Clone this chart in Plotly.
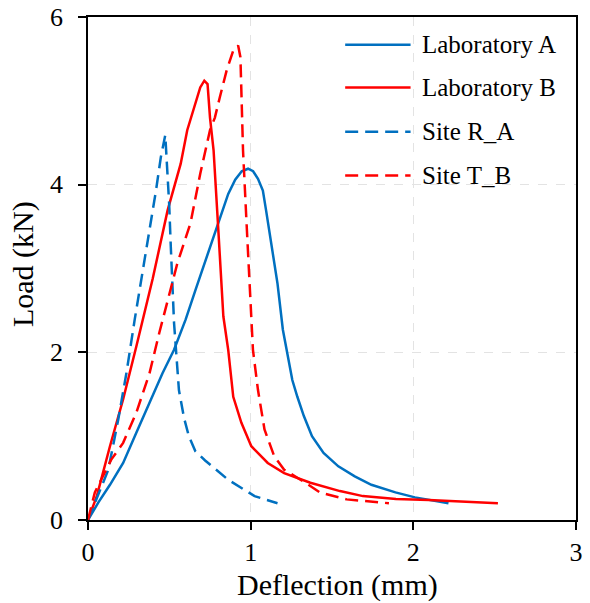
import plotly.graph_objects as go

# Load-deflection curves (deflection in mm, load in kN)
lab_a_x = [0.0, 0.064, 0.135, 0.216, 0.297, 0.378, 0.458, 0.529, 0.60, 0.66, 0.79, 0.862,
           0.905, 0.945, 0.984, 1.015, 1.045, 1.075, 1.095, 1.125, 1.165, 1.198, 1.226,
           1.256, 1.287, 1.327, 1.377, 1.448, 1.539, 1.64, 1.742, 1.89, 2.01, 2.216]
lab_a_y = [0.0, 0.21, 0.42, 0.68, 1.04, 1.40, 1.75, 2.03, 2.39, 2.74, 3.48, 3.89,
           4.06, 4.16, 4.19, 4.16, 4.07, 3.93, 3.69, 3.34, 2.82, 2.27, 1.99,
           1.67, 1.47, 1.24, 1.00, 0.80, 0.64, 0.52, 0.42, 0.33, 0.27, 0.20]

lab_b_x = [0.0, 0.055, 0.135, 0.216, 0.297, 0.378, 0.398, 0.489, 0.57, 0.61, 0.65, 0.69,
           0.715, 0.735, 0.75, 0.772, 0.80, 0.832, 0.862, 0.893, 0.943, 1.004, 1.105, 1.206,
           1.367, 1.549, 1.69, 1.893, 2.095, 2.52]
lab_b_y = [0.0, 0.29, 0.88, 1.44, 2.07, 2.74, 2.88, 3.69, 4.25, 4.65, 4.92, 5.16,
           5.24, 5.20, 4.80, 4.41, 3.50, 2.43, 2.03, 1.47, 1.16, 0.88, 0.68, 0.56,
           0.445, 0.345, 0.285, 0.25, 0.24, 0.20]

site_ra_x = [0.0, 0.125, 0.186, 0.236, 0.287, 0.317, 0.347, 0.388, 0.418, 0.448, 0.475,
             0.485, 0.499, 0.509, 0.529, 0.559, 0.59, 0.62, 0.66, 0.72, 0.862, 1.024, 1.165]
site_ra_y = [0.0, 0.60, 1.20, 1.75, 2.39, 2.74, 3.06, 3.54, 3.93, 4.33, 4.59,
             4.25, 3.77, 3.26, 2.35, 1.55, 1.22, 1.00, 0.82, 0.71, 0.48, 0.285, 0.20]

site_tb_x = [0.0, 0.042, 0.143, 0.216, 0.297, 0.378, 0.438, 0.509, 0.549, 0.63, 0.69,
             0.75, 0.78, 0.81, 0.852, 0.893, 0.923, 0.937, 0.953, 0.973, 0.994, 1.014,
             1.045, 1.085, 1.145, 1.206, 1.336, 1.428, 1.59, 1.75, 1.85]
site_tb_y = [0.0, 0.33, 0.72, 0.92, 1.28, 1.75, 2.23, 2.74, 3.06, 3.54, 4.13,
             4.65, 4.80, 5.04, 5.36, 5.60, 5.66, 5.52, 4.41, 3.61, 2.82, 2.03,
             1.55, 1.08, 0.76, 0.60, 0.445, 0.326, 0.246, 0.214, 0.20]

x_ticks = [0, 1, 2, 3]
y_ticks = [0, 2, 4, 6]
x_title = "Deflection (mm)"
y_title = "Load (kN)"

BLUE = "#0070C0"
RED = "#FF0000"
DASH = "13px,7px"
FONT = '"Times New Roman", "Liberation Serif", serif'

series = [
    ("Laboratory A", lab_a_x, lab_a_y, BLUE, "solid"),
    ("Laboratory B", lab_b_x, lab_b_y, RED, "solid"),
    ("Site R_A", site_ra_x, site_ra_y, BLUE, DASH),
    ("Site T_B", site_tb_x, site_tb_y, RED, DASH),
]

fig = go.Figure()
for name, xs, ys, color, dash in series:
    fig.add_trace(go.Scatter(
        x=xs, y=ys, mode="lines", name=name, showlegend=False,
        line=dict(color=color, width=2.5, dash=dash),
    ))

# Legend drawn as line samples plus labels in the upper right of the plot area
legend_rows_y = [0.945, 0.86, 0.772, 0.685]
for (name, _, _, color, dash), yy in zip(series, legend_rows_y):
    fig.add_shape(type="line", xref="paper", yref="paper",
                  x0=0.527, x1=0.661, y0=yy, y1=yy,
                  line=dict(color=color, width=2.5, dash=dash))
    fig.add_annotation(text=name, xref="paper", yref="paper",
                       x=0.68, y=yy, xanchor="left", yanchor="middle",
                       showarrow=False,
                       font=dict(family=FONT, size=25, color="black"))

# Y tick labels placed at the tick values, set further out from the axis line
for v in y_ticks:
    fig.add_annotation(text=str(v), xref="paper", yref="y",
                       x=0, y=v, xanchor="right", yanchor="middle",
                       xshift=-23, showarrow=False,
                       font=dict(family=FONT, size=26, color="black"))

# Axis titles
fig.add_annotation(text=x_title, xref="paper", yref="paper",
                   x=0.511, y=-0.129, xanchor="center", yanchor="middle",
                   showarrow=False, font=dict(family=FONT, size=30, color="black"))
fig.add_annotation(text=y_title, xref="paper", yref="paper",
                   x=-0.133, y=0.509, xanchor="center", yanchor="middle",
                   textangle=-90, showarrow=False,
                   font=dict(family=FONT, size=30, color="black"))

axis_common = dict(
    showline=True, linecolor="black", linewidth=1.5, mirror=True,
    ticks="outside", ticklen=8, tickwidth=1.5, tickcolor="black",
    showgrid=True, gridcolor="#e3e3e3", griddash="dash", gridwidth=1,
    zeroline=False,
    tickfont=dict(family=FONT, size=26, color="black"),
)

fig.update_xaxes(
    range=[0, 3], tickvals=x_ticks, ticktext=[str(v) for v in x_ticks],
    **axis_common,
)
fig.update_yaxes(
    range=[0, 6], tickvals=y_ticks, showticklabels=False,
    **axis_common,
)

fig.update_layout(
    width=590, height=603,
    margin=dict(l=88, r=7, t=17, b=83),
    plot_bgcolor="white", paper_bgcolor="white",
    font=dict(family=FONT, color="black"),
    showlegend=False,
)

fig.write_html("out.html")
